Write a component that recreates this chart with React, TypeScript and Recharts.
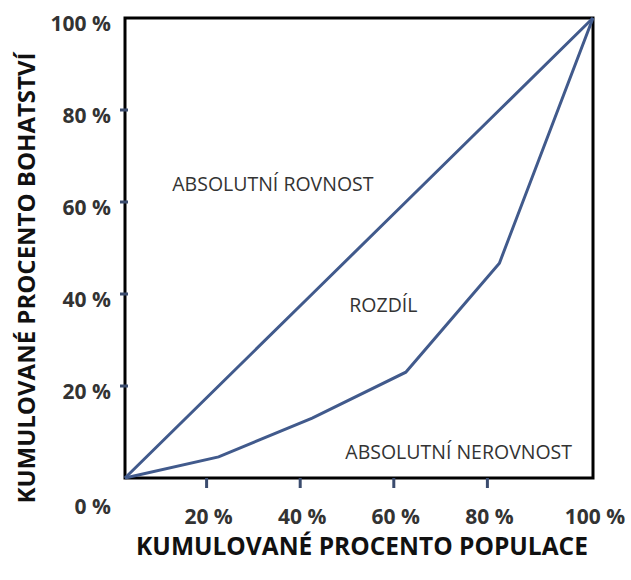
import React from "react";
import { LineChart, Line, XAxis, YAxis, ReferenceArea, ReferenceDot } from "recharts";

// cumulative share of population (x) and of wealth (y), in %
const populace = [0, 20, 40, 60, 80, 100];
const rovnost = [0, 20, 40, 60, 80, 100];
const bohatstvi = [0, 4.6, 13, 23, 46.7, 100];

const xTicks = [20, 40, 60, 80, 100];
const yTicks = [0, 20, 40, 60, 80, 100];

const notes = [
  { text: "ABSOLUTNÍ ROVNOST", x: 31.6, y: 64 },
  { text: "ROZDÍL", x: 55.2, y: 37.6 },
  { text: "ABSOLUTNÍ NEROVNOST", x: 71.3, y: 5.6 },
];

const data = populace.map((p, i) => ({ p, rovnost: rovnost[i], lorenz: bohatstvi[i] }));

const W = 631;
const H = 580;
const LEFT = 125;
const TOP = 18;
const RIGHT = 593;
const BOTTOM = 478;

const LINE = "#415a8c";
const TICK = "#3b4c6e";
const FONT = "'Open Sans', 'DejaVu Sans', sans-serif";

function YTick(props: any) {
  const { y, payload } = props;
  const v = payload.value;
  const ly = v === 0 ? y + 28 : y + 5;
  return (
    <g>
      {v > 0 && v < 100 && <line x1={LEFT - 5} x2={LEFT + 3} y1={y} y2={y} stroke={TICK} strokeWidth={3} />}
      <text x={111} y={ly} textAnchor="end" dominantBaseline="central" fontFamily={FONT} fontSize={21} fontWeight={700} fill="#333">
        {v} %
      </text>
    </g>
  );
}

function XTick(props: any) {
  const { x, payload } = props;
  const v = payload.value;
  const lx = v === 100 ? x + 2 : x - 10;
  return (
    <g>
      {v < 100 && <line x1={x - 12} x2={x - 12} y1={BOTTOM} y2={BOTTOM + 10} stroke={TICK} strokeWidth={3} />}
      <text x={lx} y={516} textAnchor="middle" dominantBaseline="central" fontFamily={FONT} fontSize={21} fontWeight={700} fill="#333">
        {v} %
      </text>
    </g>
  );
}

function XTitle() {
  return (
    <text x={362} y={545} textAnchor="middle" dominantBaseline="central" fontFamily={FONT} fontSize={24.5} fontWeight={700} fill="#111">
      KUMULOVANÉ PROCENTO POPULACE
    </text>
  );
}

function YTitle() {
  return (
    <text
      x={25}
      y={278}
      transform="rotate(-90, 25, 278)"
      textAnchor="middle"
      dominantBaseline="central"
      fontFamily={FONT}
      fontSize={24}
      fontWeight={700}
      fill="#111"
    >
      KUMULOVANÉ PROCENTO BOHATSTVÍ
    </text>
  );
}

export default function App() {
  return (
    <div style={{ position: "absolute", left: 0, top: 0, width: W, height: H, background: "#fff" }}>
      <LineChart width={W} height={H} data={data} margin={{ top: TOP, right: W - RIGHT, left: 0, bottom: 0 }}>
        <XAxis
          dataKey="p"
          type="number"
          domain={[0, 100]}
          ticks={xTicks}
          height={H - BOTTOM}
          axisLine={false}
          tickLine={false}
          tick={<XTick />}
          label={<XTitle />}
        />
        <YAxis
          type="number"
          domain={[0, 100]}
          ticks={yTicks}
          width={LEFT}
          axisLine={false}
          tickLine={false}
          tick={<YTick />}
          label={<YTitle />}
        />
        <Line dataKey="rovnost" stroke={LINE} strokeWidth={3} dot={false} isAnimationActive={false} />
        <Line dataKey="lorenz" stroke={LINE} strokeWidth={3} dot={false} isAnimationActive={false} />
        <ReferenceArea x1={0} x2={100} y1={0} y2={100} fill="none" stroke="#000" strokeWidth={3} />
        {notes.map((n) => (
          <ReferenceDot
            key={n.text}
            x={n.x}
            y={n.y}
            r={0}
            fill="none"
            stroke="none"
            label={{ value: n.text, position: "center", fill: "#333", fontSize: 19.5, fontFamily: FONT }}
          />
        ))}
      </LineChart>
    </div>
  );
}
